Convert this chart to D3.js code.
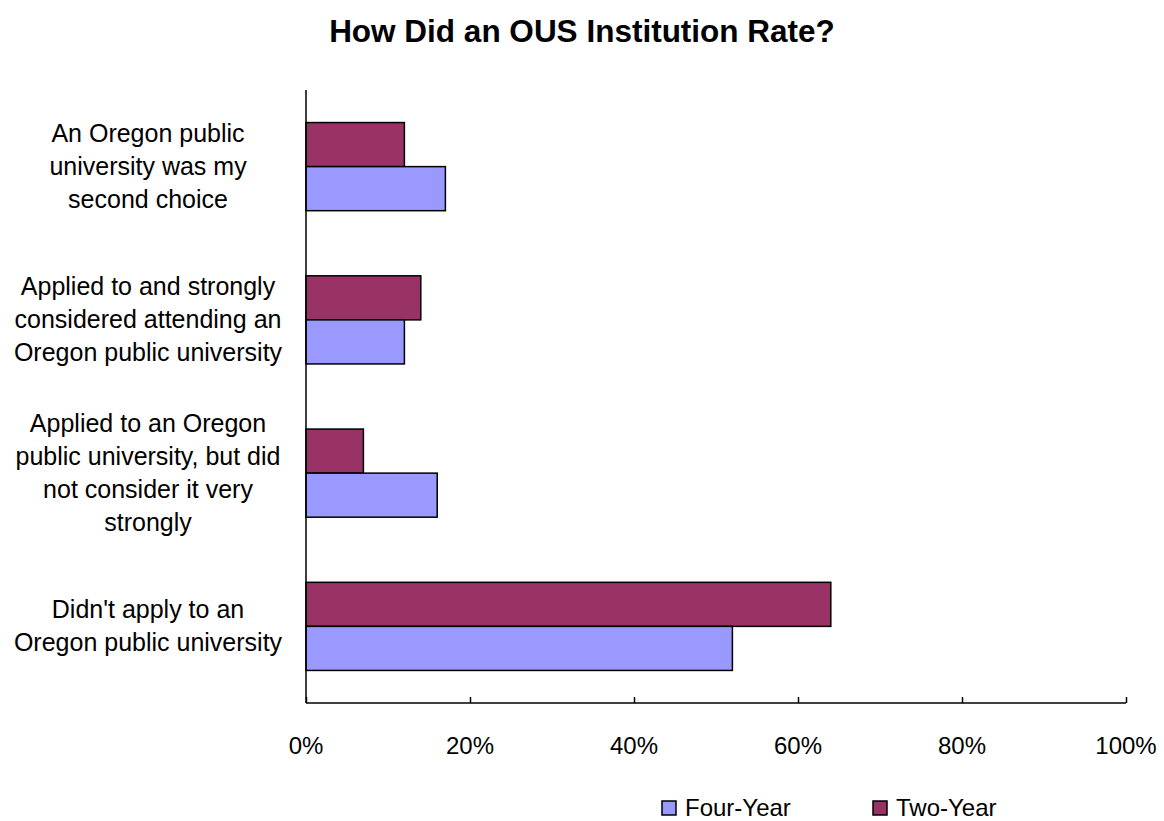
<!DOCTYPE html>
<html>
<head>
<meta charset="utf-8">
<script src="https://cdn.jsdelivr.net/npm/d3@7"></script>
<style>
  body { margin: 0; background: #fff; }
  text { font-family: "Liberation Sans", Arial, sans-serif; fill: #000; }
</style>
</head>
<body>
<div id="chart"></div>
<script>
var width = 1164, height = 821;
var margin = {top: 90, right: 38, bottom: 118, left: 306};

// data
var categories = [
  ["An Oregon public", "university was my", "second choice"],
  ["Applied to and strongly", "considered attending an", "Oregon public university"],
  ["Applied to an Oregon", "public university, but did", "not consider it very", "strongly"],
  ["Didn't apply to an", "Oregon public university"]
];
var seriesNames = ["Two-Year", "Four-Year"];
var twoYear = [12, 14, 7, 64];
var fourYear = [17, 12, 16, 52];
var tickValues = [0, 20, 40, 60, 80, 100];
var legendOrder = ["Four-Year", "Two-Year"];
var colors = {"Four-Year": "#9999ff", "Two-Year": "#993366"};

var rows = categories.map(function(c, i) {
  return {idx: i, lines: c, values: {"Two-Year": twoYear[i], "Four-Year": fourYear[i]}};
});

var svg = d3.select("#chart").append("svg")
  .attr("width", width)
  .attr("height", height);

var plotW = width - margin.left - margin.right;
var plotH = height - margin.top - margin.bottom;

var x = d3.scaleLinear().domain([0, 100]).range([0, plotW]);
var y = d3.scaleBand().domain(rows.map(function(d) { return d.idx; }))
  .range([0, plotH]).paddingInner(0.425).paddingOuter(0.2125);
var ySub = d3.scaleBand().domain(seriesNames).range([0, y.bandwidth()]);

var g = svg.append("g").attr("transform", "translate(" + margin.left + "," + margin.top + ")");

// title
svg.append("text")
  .attr("x", 582).attr("y", 42)
  .attr("text-anchor", "middle")
  .attr("font-size", 31.5)
  .attr("font-weight", "bold")
  .text("How Did an OUS Institution Rate?");

// bars
var groups = g.selectAll(".cat").data(rows).enter().append("g")
  .attr("class", "cat")
  .attr("transform", function(d) { return "translate(0," + y(d.idx) + ")"; });

groups.selectAll("rect").data(function(d) {
    return seriesNames.map(function(s) { return {s: s, v: d.values[s]}; });
  })
  .enter().append("rect")
  .attr("x", 0)
  .attr("y", function(d) { return ySub(d.s); })
  .attr("width", function(d) { return x(d.v); })
  .attr("height", ySub.bandwidth())
  .attr("fill", function(d) { return colors[d.s]; })
  .attr("stroke", "#000")
  .attr("stroke-width", 1.5);

// category labels
var lineH = 33;
groups.append("text")
  .attr("text-anchor", "middle")
  .attr("font-size", 25)
  .each(function(d) {
    var t = d3.select(this);
    var n = d.lines.length;
    var mid = y.bandwidth() / 2;
    d.lines.forEach(function(l, k) {
      t.append("tspan")
        .attr("x", 148 - margin.left)
        .attr("y", mid + (k - (n - 1) / 2) * lineH + 8)
        .text(l);
    });
  });

// axes
var xAxis = d3.axisBottom(x).tickValues(tickValues).tickSize(-6).tickFormat("");
var ax = g.append("g").attr("transform", "translate(0," + plotH + ")").call(xAxis);
ax.select(".domain").remove();
ax.selectAll(".tick line").attr("stroke", "#000").attr("stroke-width", 1.5);

g.append("line")
  .attr("x1", 0).attr("x2", plotW)
  .attr("y1", plotH).attr("y2", plotH)
  .attr("stroke", "#000").attr("stroke-width", 1.5);
g.append("line")
  .attr("x1", 0).attr("x2", 0)
  .attr("y1", 0).attr("y2", plotH)
  .attr("stroke", "#000").attr("stroke-width", 1.5);

g.selectAll(".xlab").data(tickValues).enter().append("text")
  .attr("class", "xlab")
  .attr("x", function(d) { return x(d); })
  .attr("y", plotH + 51)
  .attr("text-anchor", "middle")
  .attr("font-size", 24)
  .text(function(d) { return d + "%"; });

// legend
var legendX = [662, 873];
var leg = svg.selectAll(".leg").data(legendOrder).enter().append("g")
  .attr("class", "leg")
  .attr("transform", function(d, i) { return "translate(" + legendX[i] + ",801)"; });
leg.append("rect")
  .attr("width", 14).attr("height", 14)
  .attr("fill", function(d) { return colors[d]; })
  .attr("stroke", "#000").attr("stroke-width", 1.5);
leg.append("text")
  .attr("x", 23).attr("y", 15)
  .attr("font-size", 24)
  .text(function(d) { return d; });
</script>
</body>
</html>
